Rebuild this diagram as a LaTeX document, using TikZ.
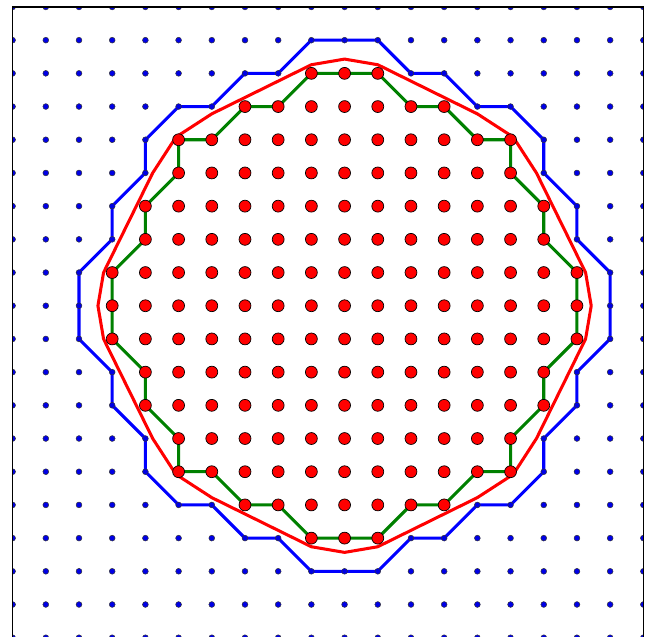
\documentclass[tikz,border=0pt]{standalone}
\usepackage{xcolor}
\usepackage{tikz}
\definecolor{latblue}{RGB}{0, 0, 255}
\definecolor{latgreen}{RGB}{0, 128, 0}
\definecolor{latred}{RGB}{255, 0, 0}

\begin{document}
\begin{tikzpicture}[
    x=0.5cm, y=0.5cm,
    griddot/.style={circle, fill=latblue!90!black, draw=black!80, line width=0.2pt, inner sep=0pt, minimum size=2.5pt},
    insidedot/.style={circle, fill=latred, draw=black, line width=0.3pt, inner sep=0pt, minimum size=5.1pt},
    outerpoly/.style={draw=latblue, line width=1.3pt, line join=round},
    innerpoly/.style={draw=latgreen, line width=1.3pt, line join=round},
    circpoly/.style={draw=latred, line width=1.3pt, line join=round},
    frame/.style={draw=black, line width=0.7pt}
  ]
  \useasboundingbox (-10.38,-9.95) rectangle (9.08,9.21);

  % outer boundary (first points outside)
  \draw[outerpoly] (-1,8) -- (1,8) -- (2,7) -- (3,7) -- (4,6) -- (5,6) -- (6,5) -- (6,4)
    -- (7,3) -- (7,2) -- (8,1) -- (8,-1) -- (7,-2) -- (7,-3) -- (6,-4) -- (6,-5)
    -- (5,-6) -- (4,-6) -- (3,-7) -- (2,-7) -- (1,-8) -- (-1,-8) -- (-2,-7) -- (-3,-7)
    -- (-4,-6) -- (-5,-6) -- (-6,-5) -- (-6,-4) -- (-7,-3) -- (-7,-2) -- (-8,-1) -- (-8,1)
    -- (-7,2) -- (-7,3) -- (-6,4) -- (-6,5) -- (-5,6) -- (-4,6) -- (-3,7) -- (-2,7) -- cycle;

  % inner boundary (last points inside)
  \draw[innerpoly] (-1,7) -- (1,7) -- (2,6) -- (3,6) -- (4,5) -- (5,5) -- (5,4) -- (6,3)
    -- (6,2) -- (7,1) -- (7,-1) -- (6,-2) -- (6,-3) -- (5,-4) -- (5,-5) -- (4,-5)
    -- (3,-6) -- (2,-6) -- (1,-7) -- (-1,-7) -- (-2,-6) -- (-3,-6) -- (-4,-5) -- (-5,-5)
    -- (-5,-4) -- (-6,-3) -- (-6,-2) -- (-7,-1) -- (-7,1) -- (-6,2) -- (-6,3) -- (-5,4)
    -- (-5,5) -- (-4,5) -- (-3,6) -- (-2,6) -- cycle;

  % circle estimate
  \draw[circpoly] (7.43,0) -- (7.26,1) -- (5.78,4) -- (5.08,5.08) -- (4,5.78) -- (1,7.26)
    -- (0,7.43) -- (-1,7.26) -- (-4,5.78) -- (-5.08,5.08) -- (-5.78,4) -- (-7.26,1)
    -- (-7.43,0) -- (-7.26,-1) -- (-5.78,-4) -- (-5.08,-5.08) -- (-4,-5.78) -- (-1,-7.26)
    -- (0,-7.43) -- (1,-7.26) -- (4,-5.78) -- (5.08,-5.08) -- (5.78,-4) -- (7.26,-1) -- cycle;

  % lattice
  \begin{scope}
    \clip (-10,-10) rectangle (9,9);
    \foreach \x in {-10,...,9}
      \foreach \y in {-10,...,9}
        \node[griddot] (g\x\y) at (\x,\y) {};
  \end{scope}

  % points inside the disc
  \foreach \x in {-7,...,7}
    \foreach \y in {-7,...,7} {
      \pgfmathtruncatemacro\rsq{\x*\x+\y*\y}
      \ifnum\rsq<51
        \node[insidedot] (p\x\y) at (\x,\y) {};
      \fi
    }

  \draw[frame] (-10,-10) rectangle (9,9);
\end{tikzpicture}
\end{document}
